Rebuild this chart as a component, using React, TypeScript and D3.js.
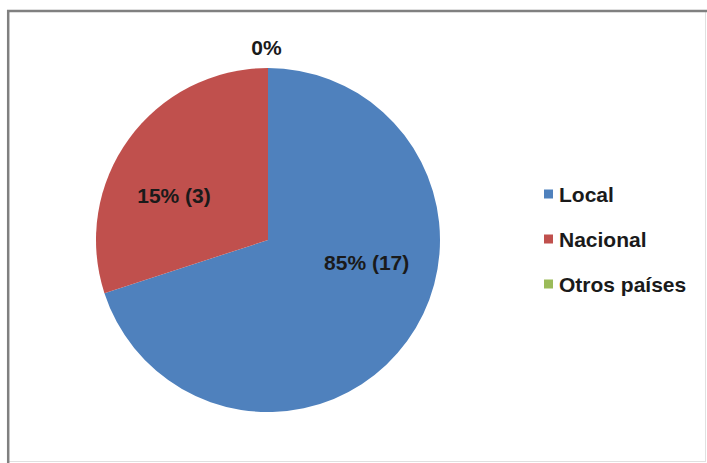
import React from "react";
import * as d3 from "d3";

// Categories and values
const categories = ["Local", "Nacional", "Otros países"];
const counts = [17, 3, 0];
const labelTexts = ["85% (17)", "15% (3)", "0%"];
// Slice shares as drawn in the picture (drawn angles differ from the labels)
const drawnShares = [70, 30, 0];
const colors = ["#4F81BD", "#C0504D", "#9BBB59"];

const W = 707;
const H = 463;
const CX = 268;
const CY = 240;
const R = 172;
const FONT = "'Liberation Sans', Arial, sans-serif";

// label anchor positions (middle, baseline)
const labelPos: [number, number][] = [
  [366.7, 270],
  [174, 202.7],
  [266.5, 55],
];

export default function App() {
  const pie = d3
    .pie<number>()
    .sort(null)
    .value((d) => d)
    .startAngle(0)
    .endAngle(Math.PI * 2);
  const arcs = pie(drawnShares);
  const arc = d3.arc<d3.PieArcDatum<number>>().innerRadius(0).outerRadius(R);

  const legendX = 544;
  const legendY0 = 194.5;
  const legendStep = 45;

  return (
    <svg
      width={W}
      height={H}
      style={{ position: "fixed", left: 0, top: 0, background: "#fff" }}
    >
      <rect x={0} y={0} width={W} height={H} fill="#fff" />
      {/* frame */}
      <line x1={8} y1={461.5} x2={706} y2={461.5} stroke="#e0e0e0" strokeWidth={1} />
      <line x1={705.5} y1={10} x2={705.5} y2={462} stroke="#e0e0e0" strokeWidth={1} />
      <line x1={8.2} y1={10} x2={8.2} y2={463} stroke="#808080" strokeWidth={2.5} />
      <line x1={7} y1={11} x2={707} y2={11} stroke="#808080" strokeWidth={2.5} />

      <g transform={`translate(${CX},${CY})`}>
        {arcs.map((a, i) => (
          <path key={categories[i]} d={arc(a) || ""} fill={colors[i]} />
        ))}
      </g>

      {arcs.map((a, i) => (
        <text
          key={"l" + i}
          x={labelPos[i][0]}
          y={labelPos[i][1]}
          textAnchor="middle"
          fontFamily={FONT}
          fontWeight="bold"
          fontSize={21}
          fill="#1a1a1a"
        >
          {labelTexts[i]}
        </text>
      ))}

      {categories.map((c, i) => (
        <g key={"lg" + c} transform={`translate(${legendX},${legendY0 + i * legendStep})`}>
          <rect x={0} y={-5} width={9} height={9} fill={colors[i]} />
          <text
            x={15}
            y={0}
            dy="0.36em"
            fontFamily={FONT}
            fontWeight="bold"
            fontSize={21}
            fill="#1a1a1a"
          >
            {c}
          </text>
        </g>
      ))}
    </svg>
  );
}
